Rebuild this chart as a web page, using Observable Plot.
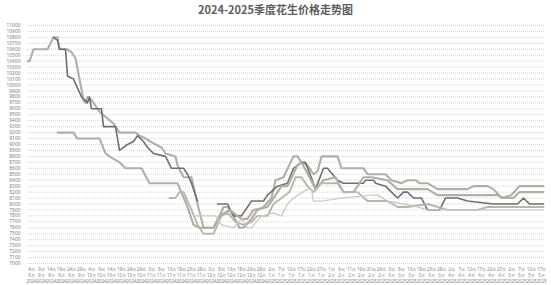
<!DOCTYPE html>
<html><head><meta charset="utf-8">
<script src="https://cdn.jsdelivr.net/npm/d3@7"></script>
<script src="https://cdn.jsdelivr.net/npm/@observablehq/plot@0.6"></script>
<style>
body{margin:0;background:#fff;font-family:"Noto Sans CJK SC","Noto Sans",sans-serif;}
#title{width:551px;height:20px;line-height:19px;text-align:center;font-size:11px;font-weight:bold;color:#5d5d5d;}
</style></head><body>
<div id="title">2024-2025季度花生价格走势图</div>
<div id="chart"></div>
<script>
// day index (from 2024-09-02) and price (元/吨)
const seasonStart = "2024-09-02";
const series1 = [[0,10400],[1,10400],[3,10600],[10,10600],[13,10800],[15,10800],[16,10600],[20,10600],[22,10550],[24,10450],[28,9750],[29,9700],[30,9800],[32,9750],[36,9550],[43,9350],[45,9250],[46,9200],[54,9200],[56,9150],[59,9100],[64,9000],[67,8950],[69,8850],[74,8800],[75,8650],[78,8450],[82,8450],[85,8000],[88,7600],[93,7600],[96,7800],[98,7950],[100,7950],[103,7800],[106,7600],[108,7600],[112,7750],[115,7900],[118,7950],[122,8100],[124,8400],[128,8450],[133,8800],[135,8800],[137,8700],[140,8650],[143,8500],[145,8550],[147,8800],[155,8800],[157,8600],[168,8600],[170,8500],[179,8500],[182,8400],[187,8350],[190,8400],[194,8400],[196,8350],[200,8350],[205,8250],[220,8250],[223,8300],[230,8300],[233,8250],[237,8100],[242,8150],[246,8300],[258,8300]];
const series2 = [[13,10800],[15,10750],[16,10600],[19,10600],[20,10150],[23,10100],[27,9800],[30,9700],[31,9800],[32,9600],[37,9600],[38,9300],[44,9300],[46,8900],[48,8950],[50,9000],[53,9050],[55,9150],[58,9050],[60,8950],[63,8850],[69,8800],[72,8600],[78,8600],[80,8500],[82,8350],[85,8050],[90,null],[95,8000],[100,8000],[103,7800],[107,7800],[112,8050],[118,8050],[120,8150],[125,8300],[130,8350],[133,8600],[137,8700],[139,8700],[144,8250],[148,8600],[150,8600],[155,8400],[158,8350],[168,8350],[169,8400],[173,8400],[174,8350],[179,8300],[182,8200],[185,8100],[188,8200],[190,8200],[193,8100],[197,8100],[200,7900],[206,7900],[209,8100],[215,8100],[220,8050],[233,8000],[245,8000],[248,8100],[251,8000],[258,8000]];
const series3 = [[15,9200],[23,9200],[25,9100],[36,9100],[39,8850],[41,8800],[46,8700],[49,8600],[57,8600],[61,8350],[75,8350],[80,7950],[83,7650],[86,7600],[93,7600],[96,7800],[101,7900],[107,7750],[110,7750],[113,7900],[120,7950],[123,8100],[127,8300],[130,8300],[135,8650],[137,8700],[141,8450],[144,8250],[148,8400],[154,8450],[158,8200],[163,8200],[168,8450],[172,8450],[180,8400],[185,8250],[200,8250],[205,8150],[235,8150],[238,8100],[243,8100],[246,8200],[258,8200]];
const series4 = [[71,8100],[74,8100],[76,8200],[78,8200],[82,7900],[85,7650],[88,7500],[93,7500],[95,7650],[97,7800],[100,7850],[104,7700],[108,7650],[112,7700],[115,7800],[120,7800],[123,8000],[127,8100],[131,8200],[134,8450],[137,8450],[140,8300],[143,8200],[147,8350],[155,8350],[158,8200],[165,8200],[170,8050],[180,8050],[185,7950],[190,7950],[200,8000],[210,7900],[225,7900],[230,7950],[240,7950],[258,7950]];
const series5 = [[83,7800],[94,7800],[97,7650],[103,7600],[107,7750],[110,7600],[112,7600],[117,7800],[123,7850],[127,7800],[130,8000],[133,8100],[140,8250],[142,8250],[143,8050],[147,8050],[157,8100],[172,8150],[175,8150],[180,8050],[188,8000],[195,7950],[200,7900],[258,7900]];

const seriesList = [
  {name: "系列1", points: series1},
  {name: "系列2", points: series2},
  {name: "系列3", points: series3},
  {name: "系列4", points: series4},
  {name: "系列5", points: series5}
];
const styles = {
  "系列1": {stroke: "#b3aea3", w: 2.1},
  "系列2": {stroke: "#6f6f6f", w: 1.6},
  "系列3": {stroke: "#b3aea3", w: 2.1},
  "系列4": {stroke: "#bbb6ab", w: 1.9},
  "系列5": {stroke: "#cdc9c0", w: 1.3}
};
const rows = seriesList.flatMap(s => s.points.map(([day, price]) => ({name: s.name, day, price})));

const start = new Date(seasonStart + "T00:00:00Z");
const fmt = d => {
  const dt = d3.utcDay.offset(start, d);
  return `${dt.getUTCDate()}日\n${dt.getUTCMonth() + 1}月\n${dt.getUTCFullYear()}`;
};

const chart = Plot.plot({
  width: 551,
  height: 265,
  marginTop: 5,
  marginBottom: 22,
  marginLeft: 27,
  marginRight: 6,
  style: {fontFamily: "'Noto Sans', sans-serif", background: "#fff"},
  x: {domain: [0, 259], axis: null},
  y: {domain: [7000, 11000], axis: null},
  marks: [
    Plot.gridY(d3.range(7000, 11001, 100), {stroke: "#d4d4d4", strokeOpacity: 1, strokeDasharray: "1,1"}),
    Plot.axisY(d3.range(7000, 11001, 100), {tickSize: 0, tickPadding: 7, fontSize: 4.9, fill: "#808080", label: null, tickFormat: d3.format("d")}),
    Plot.axisX(d3.range(2, 259, 5), {tickSize: 0, tickPadding: 3, fontSize: 4.4, fill: "#7c7c7c", lineHeight: 1.35, tickFormat: fmt, label: null}),
    ...seriesList.map(s => Plot.line(rows.filter(r => r.name === s.name), {
      x: "day", y: "price", stroke: styles[s.name].stroke, strokeWidth: styles[s.name].w, curve: "linear"
    }))
  ]
});
document.getElementById("chart").appendChild(chart);
</script></body></html>
